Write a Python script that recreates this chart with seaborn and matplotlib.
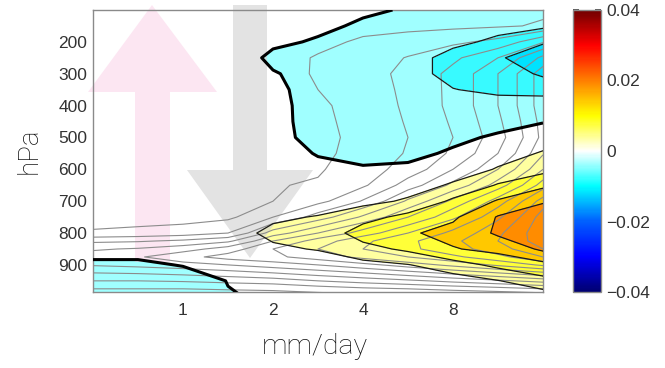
import numpy as np
import matplotlib
matplotlib.use("Agg")
import matplotlib.pyplot as plt
import seaborn as sns
from matplotlib.colors import LinearSegmentedColormap, Normalize
from matplotlib.patches import Polygon
import matplotlib.colorbar as mcolorbar

sns.set_theme(style="white")
plt.rcParams['font.family'] = ['Liberation Sans', 'DejaVu Sans']
plt.rcParams['contour.negative_linestyle'] = 'solid'

# ---------------- data ----------------
precip = [0.5, 0.707, 1.0, 1.414, 2.0, 2.828, 4.0, 5.657, 8.0, 11.31, 16.0]   # mm/day
pressure = [100, 150, 200, 250, 300, 350, 400, 450, 500, 550, 600, 650,
            700, 750, 800, 850, 900, 950, 1000]                                # hPa

# shaded field (x 1e-3), one row per pressure level
shade_rows = [
    [1.5, 1.5, 1.8, 2.5, 3.0, 2.0, 0.8, -0.5, -1.5, -2.5, -3.0],
    [1.5, 1.5, 1.8, 2.5, 2.0, 1.0, -0.8, -1.5, -2.5, -3.5, -4.2],
    [1.5, 1.5, 1.8, 2.5, 0.8, -0.5, -1.8, -2.5, -4.0, -6.0, -9.5],
    [1.5, 1.5, 1.8, 2.5, -1.0, -1.5, -2.5, -3.5, -6.5, -9.5, -13.0],
    [1.5, 1.5, 1.8, 2.5, 0.3, -1.8, -2.8, -4.0, -6.0, -7.0, -11.0],
    [1.5, 1.5, 1.8, 2.3, 0.8, -1.7, -2.5, -3.0, -4.9, -5.8, -6.0],
    [1.5, 1.5, 1.8, 2.2, 1.0, -1.6, -2.2, -2.5, -3.0, -3.5, -3.5],
    [1.5, 1.5, 1.8, 2.2, 1.0, -1.5, -2.0, -2.0, -2.0, -1.5, -0.2],
    [1.5, 1.5, 1.8, 2.2, 1.0, -1.2, -1.8, -1.5, -0.8, 0.6, 2.0],
    [1.5, 1.5, 1.8, 2.2, 1.2, -0.2, -1.2, -0.8, 0.5, 2.5, 5.6],
    [1.5, 1.5, 1.8, 2.2, 1.5, 0.8, 0.4, 0.6, 2.0, 5.5, 8.5],
    [1.5, 1.5, 1.8, 2.2, 1.8, 1.5, 1.5, 2.5, 5.8, 10.5, 14.0],
    [1.5, 1.5, 1.8, 2.3, 2.2, 2.5, 3.5, 5.8, 11.0, 15.5, 19.5],
    [1.5, 1.5, 1.8, 2.8, 4.3, 5.3, 8.5, 11.5, 14.3, 20.4, 23.0],
    [1.5, 1.5, 2.0, 3.5, 6.0, 7.5, 12.0, 14.5, 16.5, 20.8, 24.5],
    [1.0, 1.0, 1.2, 2.5, 4.3, 5.3, 8.5, 11.0, 14.7, 16.5, 21.0],
    [-0.5, -0.5, 0.15, 1.0, 1.5, 2.0, 3.5, 4.8, 8.0, 11.3, 13.5],
    [-2.0, -2.0, -1.5, 0.1, 0.3, 1.0, 1.5, 2.0, 2.5, 4.8, 8.5],
    [-3.0, -3.0, -2.5, -0.2, 0.5, 0.6, 0.8, 0.8, 0.8, 1.0, 2.0],
]

# gray contoured field
pressure_g = [100, 150, 200, 250, 300, 350, 400, 450, 500, 550, 600, 650,
              700, 750, 800, 825, 850, 875, 900, 925, 950, 975, 1000]
gray_rows = [
    [0.30, 0.30, 0.30, 0.35, 0.40, 0.45, 0.50, 0.55, 0.60, 0.70, 0.85],
    [0.35, 0.35, 0.35, 0.40, 0.45, 0.50, 0.60, 0.70, 0.80, 0.90, 1.10],
    [0.40, 0.40, 0.40, 0.45, 0.55, 0.70, 1.20, 1.50, 1.80, 2.30, 3.90],
    [0.40, 0.40, 0.45, 0.50, 0.60, 1.10, 1.60, 2.05, 2.80, 4.00, 6.30],
    [0.40, 0.40, 0.45, 0.50, 0.65, 1.10, 1.60, 2.30, 3.30, 5.00, 7.60],
    [0.40, 0.40, 0.45, 0.50, 0.62, 1.00, 1.50, 2.25, 3.30, 5.00, 7.60],
    [0.40, 0.40, 0.45, 0.50, 0.60, 0.85, 1.40, 2.20, 3.30, 5.00, 7.60],
    [0.40, 0.40, 0.45, 0.50, 0.60, 0.80, 1.35, 2.10, 3.15, 4.80, 7.40],
    [0.40, 0.40, 0.45, 0.50, 0.60, 0.75, 1.30, 2.00, 3.00, 4.60, 7.30],
    [0.40, 0.40, 0.45, 0.50, 0.65, 0.80, 1.35, 2.10, 3.20, 5.00, 7.90],
    [0.45, 0.45, 0.50, 0.60, 0.75, 0.90, 1.60, 2.40, 4.00, 6.00, 9.00],
    [0.50, 0.50, 0.55, 0.70, 0.95, 1.10, 1.85, 3.50, 5.30, 7.50, 10.50],
    [0.50, 0.50, 0.55, 0.60, 1.00, 1.70, 3.10, 5.20, 7.30, 9.50, 12.50],
    [0.50, 0.55, 0.60, 0.80, 2.00, 3.50, 5.20, 7.00, 8.80, 10.80, 13.50],
    [1.15, 1.30, 1.50, 2.00, 4.50, 6.00, 7.50, 9.00, 10.30, 11.80, 13.80],
    [2.80, 2.90, 3.20, 3.80, 6.00, 7.50, 8.80, 9.80, 10.80, 12.00, 13.60],
    [3.90, 4.10, 4.60, 5.50, 7.00, 8.00, 9.00, 9.80, 10.60, 11.60, 13.00],
    [4.40, 4.90, 5.70, 6.40, 6.80, 7.50, 8.30, 9.00, 9.80, 10.70, 12.00],
    [4.10, 4.30, 4.60, 5.00, 5.50, 6.00, 6.70, 7.50, 8.30, 9.20, 10.20],
    [3.00, 3.10, 3.30, 3.60, 4.00, 4.50, 5.00, 5.60, 6.30, 7.00, 7.80],
    [2.00, 2.00, 2.10, 2.30, 2.50, 3.00, 3.40, 3.80, 4.30, 4.80, 5.40],
    [1.00, 1.00, 1.00, 1.10, 1.20, 1.50, 1.80, 2.00, 2.30, 2.60, 3.00],
    [0.30, 0.30, 0.20, 0.30, 0.30, 0.40, 0.50, 0.60, 0.70, 0.80, 1.00],
]

shade_levels = [-0.02, -0.015, -0.01, -0.005, 0.0, 0.005, 0.01, 0.015, 0.02, 0.025, 0.03]
shade_colors = ['#00b8ff', '#00e2ff', '#38faff', '#a0ffff', '#ffffff',
                '#ffffa0', '#ffff38', '#ffc800', '#ff8c00', '#ff5000']
gray_levels = list(range(1, 15))

x_ticks = [1, 2, 4, 8]
x_minor = [0.6, 0.7, 0.8, 0.9]
y_ticks = [200, 300, 400, 500, 600, 700, 800, 900]
cb_ticks = [-0.04, -0.02, 0.0, 0.02, 0.04]
cb_labels = ['\u22120.04', '\u22120.02', '0', '0.02', '0.04']

# ---------------- figure ----------------
W, H = 665, 368
fig = plt.figure(figsize=(W / 100, H / 100), dpi=100)
ax = fig.add_axes([93 / W, 1 - 292 / H, 450 / W, 282 / H])

X, P = np.meshgrid(precip, pressure)
Fld = np.array(shade_rows) * 1e-3
Xg, Pg = np.meshgrid(precip, pressure_g)
G = np.array(gray_rows)

ax.contourf(X, P, Fld, levels=shade_levels, colors=shade_colors, zorder=1)

# overlay arrows (semi-transparent, in figure coordinates)
def fig_poly(pts, color, alpha):
    pts = [(x / W, 1 - y / H) for x, y in pts]
    poly = Polygon(pts, closed=True, facecolor=color, edgecolor='none',
                   alpha=alpha, transform=fig.transFigure, clip_on=False, zorder=1.5)
    ax.add_patch(poly)

fig_poly([(152, 5), (217, 92), (170, 92), (170, 262), (135, 262), (135, 92), (88, 92)],
         '#fbd6ea', 0.6)
fig_poly([(233, 5), (267, 5), (267, 170), (313, 170), (250, 258), (187, 170), (233, 170)],
         '#d4d4d4', 0.65)

ax.contour(Xg, Pg, G, levels=gray_levels, colors='#8c8c8c', linewidths=0.8,
           linestyles='solid', zorder=2)
thin = [l for l in shade_levels if l != 0.0]
ax.contour(X, P, Fld, levels=thin, colors='#1a1a1a', linewidths=0.9,
           linestyles='solid', zorder=3)
ax.contour(X, P, Fld, levels=[0.0], colors='black', linewidths=2.2,
           linestyles='solid', zorder=3)

ax.set_xscale('log')
ax.set_xlim(0.5, 16)
ax.set_ylim(985, 100)
ax.set_xticks(x_ticks)
ax.set_xticklabels([str(t) for t in x_ticks])
ax.set_xticks(x_minor, minor=True)
ax.set_xticklabels([], minor=True)
ax.set_yticks(y_ticks)
ax.set_yticklabels([str(t) for t in y_ticks])
ax.tick_params(axis='both', which='both', direction='in', top=True, right=True,
               bottom=True, left=True, color='#555555', labelcolor='#333333',
               labelsize=12.5, width=0.8)
ax.tick_params(axis='both', which='major', length=4)
ax.tick_params(axis='x', which='minor', length=2.5)
ax.tick_params(axis='x', which='major', pad=8)
ax.tick_params(axis='y', which='major', pad=4)
for s in ax.spines.values():
    s.set_color('#8a8a8a')
    s.set_linewidth(1.0)

ax.set_ylabel('hPa', fontsize=20, color='#111111', family=['Roboto', 'DejaVu Sans'],
              fontweight='light')
ax.yaxis.set_label_coords(-0.113, 0.5)
ax.set_xlabel('mm/day', fontsize=20.5, color='#111111', family=['Roboto', 'DejaVu Sans'],
              fontweight='light')
ax.xaxis.set_label_coords(0.493, -0.145)

# colorbar
cmap = LinearSegmentedColormap.from_list('jetwhite', [
    (0.0, '#000070'), (0.125, '#0000ff'), (0.25, '#0060ff'), (0.375, '#00ffff'),
    (0.5, '#ffffff'), (0.625, '#ffff00'), (0.75, '#ff8000'), (0.875, '#ff0000'),
    (1.0, '#700000')])
cax = fig.add_axes([573 / W, 1 - 292 / H, 28 / W, 282 / H])
cb = mcolorbar.ColorbarBase(cax, cmap=cmap, norm=Normalize(-0.04, 0.04),
                            orientation='vertical')
cb.set_ticks(cb_ticks)
cb.set_ticklabels(cb_labels)
cax.tick_params(direction='in', left=True, right=True, length=4, color='#444444',
                labelcolor='#333333', labelsize=12.5, pad=4)
cb.outline.set_edgecolor('#8a8a8a')
cb.outline.set_linewidth(1.0)

fig.savefig('out.png', dpi=100)
